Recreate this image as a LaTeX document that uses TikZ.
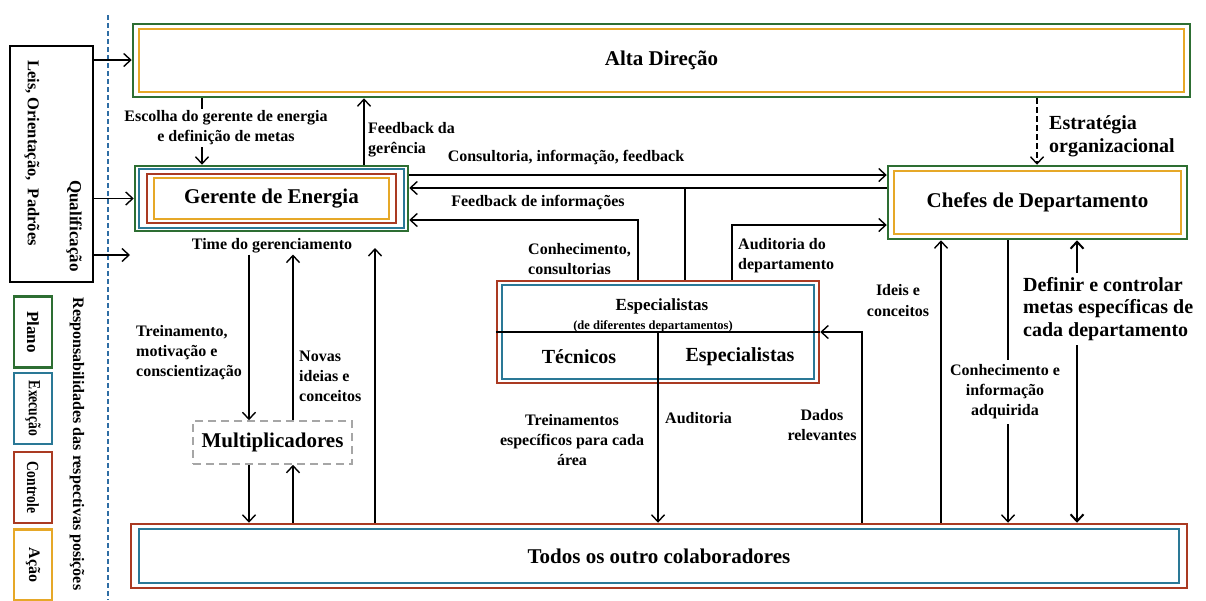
\documentclass[tikz,border=0pt]{standalone}
\usepackage{fontspec}
\setmainfont{Liberation Serif}
\usetikzlibrary{arrows.meta,calc}
\definecolor{cgreen}{HTML}{2D6E32}
\definecolor{corange}{HTML}{E6A828}
\definecolor{cblue}{HTML}{2A7896}
\definecolor{cred}{HTML}{AA3A22}
\definecolor{cdash}{HTML}{2E6DA4}
\newcommand\myinset[4]{\draw[#2, line width=2.3pt] ([xshift=#3,yshift=-#4]#1.north west) rectangle ([xshift=-#3,yshift=#4]#1.south east);}
\begin{document}
\begin{tikzpicture}[x=1pt,y=-1pt,
  lbl/.style={font=\fontsize{16}{20}\selectfont\bfseries, inner sep=1pt},
  lblfill/.style={lbl, fill=white, inner sep=5pt},
  big/.style={font=\fontsize{20}{23}\selectfont\bfseries},
  title/.style={font=\fontsize{21}{25}\selectfont\bfseries},
  outerbox/.style={draw, line width=2.5pt, inner sep=0pt},
  legbox/.style={draw, line width=2.3pt, rotate=-90, minimum width=71pt, minimum height=38pt, inner sep=0pt, font=\fontsize{17}{20}\selectfont\bfseries},
  arr/.style={line width=1.5pt, -{Straight Barb[length=7pt,width=13pt,line width=1.4pt]}},
  arrthick/.style={line width=2.8pt, {Straight Barb[length=7pt,width=13pt,line width=2pt]}-{Straight Barb[length=7pt,width=13pt,line width=2pt]}},
  plain/.style={line width=1.5pt}
]
\useasboundingbox[fill=white] (0,0) rectangle (1206,600);

% column / row coordinates
\coordinate (c202) at (202,0);
\coordinate (c364) at (364,0);
\coordinate (c685) at (685,0);
\coordinate (c638) at (638,0);
\coordinate (c732) at (732,0);
\coordinate (c862) at (862,0);
\coordinate (c249) at (249,0);
\coordinate (c293) at (293,0);
\coordinate (c375) at (375,0);
\coordinate (c1037) at (1037,0);
\coordinate (c941) at (941,0);
\coordinate (c1008) at (1008,0);
\coordinate (c1077) at (1077,0);
\coordinate (r60) at (0,60);
\coordinate (r175) at (0,175);
\coordinate (r188) at (0,188);
\coordinate (r220) at (0,220);
\coordinate (r225) at (0,225);
\coordinate (r255) at (0,255);
\coordinate (qend) at (130,255);
\coordinate (tip375) at (375,248);

% dashed separator
\draw[cdash, line width=1.8pt, dash pattern=on 5pt off 3pt] (108,15) -- (108,600);

% main boxes
\node[outerbox, draw=cgreen, minimum width=1057pt, minimum height=73pt, title] (alta) at (661.5,60.5) {Alta Direção};
\myinset{alta}{corange}{7pt}{6pt}

\node[outerbox, draw=cgreen, minimum width=273pt, minimum height=65pt, title] (ger) at (271.5,198.5) {Gerente de Energia};
\myinset{ger}{cblue}{5pt}{4pt}
\myinset{ger}{cred}{13pt}{9pt}
\myinset{ger}{corange}{20pt}{13pt}

\node[outerbox, draw=cgreen, minimum width=299pt, minimum height=73pt, title] (chefes) at (1037.5,202.5) {Chefes de Departamento};
\myinset{chefes}{corange}{7pt}{6pt}

\node[outerbox, draw=cred, minimum width=322pt, minimum height=102pt] (espec) at (658,332) {};
\myinset{espec}{cblue}{6pt}{5pt}

\node[outerbox, draw=cred, minimum width=1056pt, minimum height=64pt, title] (todos) at (659,556) {Todos os outro colaboradores};
\myinset{todos}{cblue}{9pt}{6pt}

\node[draw=gray!70, line width=1.5pt, dash pattern=on 8pt off 5pt, minimum width=159pt, minimum height=43pt, inner sep=0pt, title] (mult) at (272.5,442.5) {Multiplicadores};

% Especialistas internals
\draw[plain] (espec.west) -- (espec.east);
\draw[plain] (espec.center) -- (espec.south);
\node[lbl, font=\fontsize{17}{20}\selectfont\bfseries] (e1) at (662,306) {Especialistas};
\node[lbl, font=\fontsize{12.5}{15}\selectfont\bfseries] (e2) at (653,326) {(de diferentes departamentos)};
\node[lbl, font=\fontsize{20}{23}\selectfont\bfseries] (tec) at (579,357) {Técnicos};
\node[lbl, font=\fontsize{20}{23}\selectfont\bfseries] (esp) at (740,357) {Especialistas};

% left column
\node[draw, line width=1.5pt, minimum width=83pt, minimum height=236pt, inner sep=0pt] (leis) at (51.5,164) {};
\node[lbl, rotate=-90, font=\fontsize{16.5}{20}\selectfont\bfseries] (tleis) at (32,153) {Leis, Orientação,\ \ Padrões};
\node[lbl, rotate=-90, font=\fontsize{17}{20}\selectfont\bfseries] (tqual) at (74,226) {Qualificação};
\node[legbox, draw=cgreen] (plano) at (33,332) {Plano};
\node[legbox, draw=cblue] (exec) at (33,408.5) {\scalebox{0.8}[1]{Execução}};
\node[legbox, draw=cred] (contr) at (33,487.5) {\scalebox{0.8}[1]{Controle}};
\node[legbox, draw=corange, font=\fontsize{16}{20}\selectfont\bfseries] (acao) at (33,565) {Ação};
\node[lbl, rotate=-90, font=\fontsize{16}{20}\selectfont\bfseries] (tresp) at (77,444) {Responsabilidades das respectivas posições};

\draw[arr] (leis.east |- r60) -- (alta.west |- r60);
\draw[arr] (leis.east |- ger.west) -- (ger.west);
\draw[arr] (leis.east |- r255) -- (qend);

% top connectors
\draw[arr] (alta.south -| c202) -- (ger.north -| c202);
\node[lblfill, align=center, inner sep=2pt] (lesc) at (226,128) {Escolha do gerente de energia\\e definição de metas};
\draw[arr] (ger.north -| c364) -- (alta.south -| c364);
\node[lbl, anchor=west, align=left] (lfb) at (367,140) {Feedback da\\gerência};

\draw[arr] (ger.east |- r175) -- (chefes.west |- r175);
\node[lbl] (lcons) at (566,158) {Consultoria, informação, feedback};
\draw[arr] (chefes.west |- r188) -- (ger.east |- r188);
\draw[plain] (espec.north -| c685) -- (c685 |- r188);
\draw[arr] (espec.north -| c638) |- (ger.east |- r220);
\node[lbl] (lfbi) at (538,203) {Feedback de informações};
\node[lbl, anchor=west, align=left] (lconh) at (527,259) {Conhecimento,\\consultorias};
\draw[arr] (espec.north -| c732) |- (chefes.west |- r225);
\node[lbl, anchor=west, align=left] (laud) at (737,256) {Auditoria do\\departamento};

% Especialistas lower connectors
\draw[arr] (todos.north -| c862) |- (espec.east);
\node[lbl, align=center] (ldados) at (822,425) {Dados\\relevantes};
\draw[arr] (espec.south) -- (todos.north -| espec.south);
\node[lbl, anchor=west] (laudit) at (664,418) {Auditoria};
\node[lbl, align=center] (ltrein) at (572,440) {Treinamentos\\específicos para cada\\área};

% Gerente lower connectors
\node[lbl] (time) at (272,246) {Time do gerenciamento};
\draw[arr] (time.south -| c249) -- (mult.north -| c249);
\draw[arr] (mult.north -| c293) -- (time.south -| c293);
\node[lbl, anchor=west, align=left] (ltm) at (135,353) {Treinamento,\\motivação e\\conscientização};
\node[lbl, anchor=west, align=left] (lnov) at (298,376) {Novas\\ ideias e\\conceitos};
\draw[arr] (mult.south -| c249) -- (todos.north -| c249);
\draw[arr] (todos.north -| c293) -- (mult.south -| c293);
\draw[arr] (todos.north -| c375) -- (tip375);

% Chefes connectors
\draw[arr, dash pattern=on 6pt off 3pt] (alta.south -| c1037) -- (chefes.north -| c1037);
\node[lbl, big, anchor=west, align=left] (lestr) at (1048,136) {Estratégia\\organizacional};
\draw[arr] (todos.north -| c941) -- (chefes.south -| c941);
\node[lbl, align=center, font=\fontsize{16}{21}\selectfont\bfseries] (lideis) at (898,301) {Ideis e\\conceitos};
\draw[arr] (chefes.south -| c1008) -- (todos.north -| c1008);
\node[lblfill, align=center, inner sep=5pt] (lconhe) at (1005,392) {Conhecimento e\\informação\\adquirida};
\draw[arrthick] (todos.north -| c1077) -- (chefes.south -| c1077);
\node[lblfill, big, anchor=west, align=left, inner sep=4pt, font=\fontsize{20}{22.5}\selectfont\bfseries] (ldef) at (1019,309) {Definir e controlar\\metas específicas de\\cada departamento};
\end{tikzpicture}
\end{document}
